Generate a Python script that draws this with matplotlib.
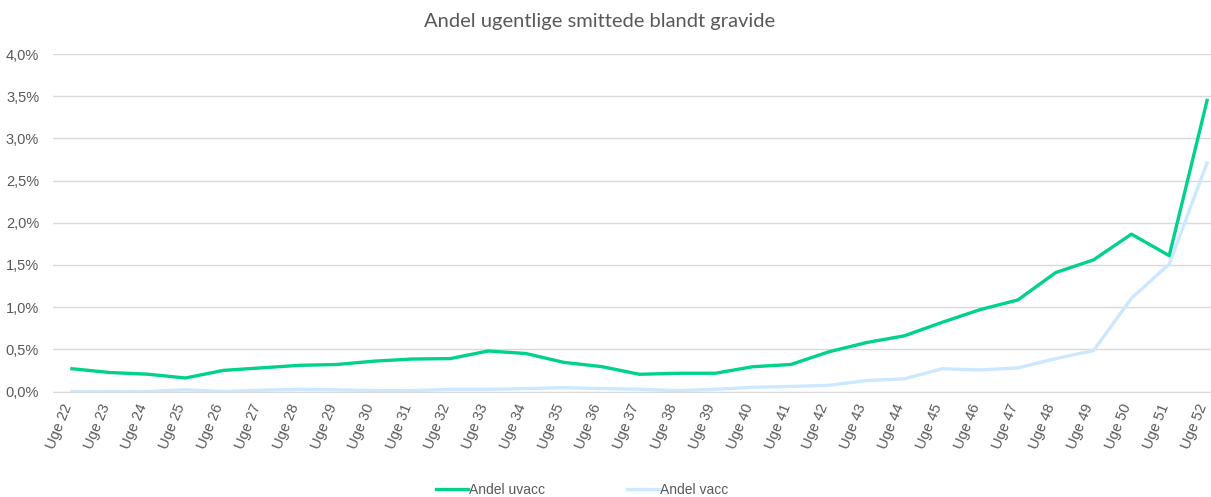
import matplotlib.pyplot as plt
import matplotlib.transforms as mtransforms
import numpy as np

# weeks on x-axis
weeks = list(range(22, 53))
week_labels = [f'Uge {w}' for w in weeks]

# share of infected pregnant women per week (%)
andel_uvacc = [0.27, 0.225, 0.205, 0.16, 0.25, 0.28, 0.31, 0.32, 0.36, 0.385,
               0.39, 0.48, 0.45, 0.345, 0.295, 0.204, 0.216, 0.216, 0.294, 0.32,
               0.47, 0.58, 0.66, 0.82, 0.97, 1.085, 1.41, 1.56, 1.865, 1.61, 3.45]
andel_vacc = [0.0, 0.0, 0.0, 0.02, 0.0, 0.015, 0.025, 0.02, 0.01, 0.01,
              0.025, 0.025, 0.035, 0.045, 0.035, 0.026, 0.01, 0.026, 0.05, 0.06,
              0.073, 0.13, 0.15, 0.27, 0.255, 0.28, 0.39, 0.485, 1.105, 1.51, 2.71]

plt.rcParams['font.family'] = ['Liberation Sans', 'DejaVu Sans']
grey = '#595959'

fig = plt.figure(figsize=(12.11, 4.97), dpi=100)
# plot area runs past right edge (cropped like the original)
ax = fig.add_axes([53 / 1211, 105.5 / 497, 1173 / 1211, 337.5 / 497])

x = np.arange(len(weeks))
ax.plot(x, andel_uvacc, color='#00D28C', lw=2.4, label='Andel uvacc',
        solid_joinstyle='round', zorder=3)
ax.plot(x, andel_vacc, color='#CCE8FF', lw=2.4, label='Andel vacc',
        solid_joinstyle='round', zorder=2)

ax.set_xlim(-0.5, len(weeks) - 0.5)
ax.set_ylim(0, 4.0)
ax.set_yticks(np.arange(0, 4.01, 0.5))
ax.set_yticklabels([f'{v:.1f}%'.replace('.', ',') for v in np.arange(0, 4.01, 0.5)])
ax.set_xticks(x)
ax.set_xticklabels(week_labels, rotation=68, ha='right', va='center',
                   rotation_mode='anchor')

ax.grid(axis='y', color='#D9D9D9', lw=1)
ax.set_axisbelow(True)
for s in ax.spines.values():
    s.set_visible(False)
ax.spines['bottom'].set_visible(True)
ax.spines['bottom'].set_color('#D9D9D9')
ax.tick_params(axis='both', length=0, colors=grey, labelsize=10.5)
ax.tick_params(axis='x', pad=9)
ax.tick_params(axis='y', pad=10)

# nudge week labels a little left so the last one stays inside the figure
shift = mtransforms.ScaledTranslation(-4 / 100, 0, fig.dpi_scale_trans)
for lbl in ax.get_xticklabels():
    lbl.set_transform(lbl.get_transform() + shift)

fig.text(600 / 1211, 1 - 22 / 497, 'Andel ugentlige smittede blandt gravide',
         ha='center', va='center', fontsize=14.5, color=grey,
         family=['Lato', 'DejaVu Sans'])

fig.legend(loc='center', bbox_to_anchor=(582 / 1211, 1 - 490 / 497), ncol=2,
           frameon=False, fontsize=10, handlelength=2.3, handletextpad=0.1,
           columnspacing=5.9, labelcolor=grey)

fig.savefig('out.png', dpi=100)
